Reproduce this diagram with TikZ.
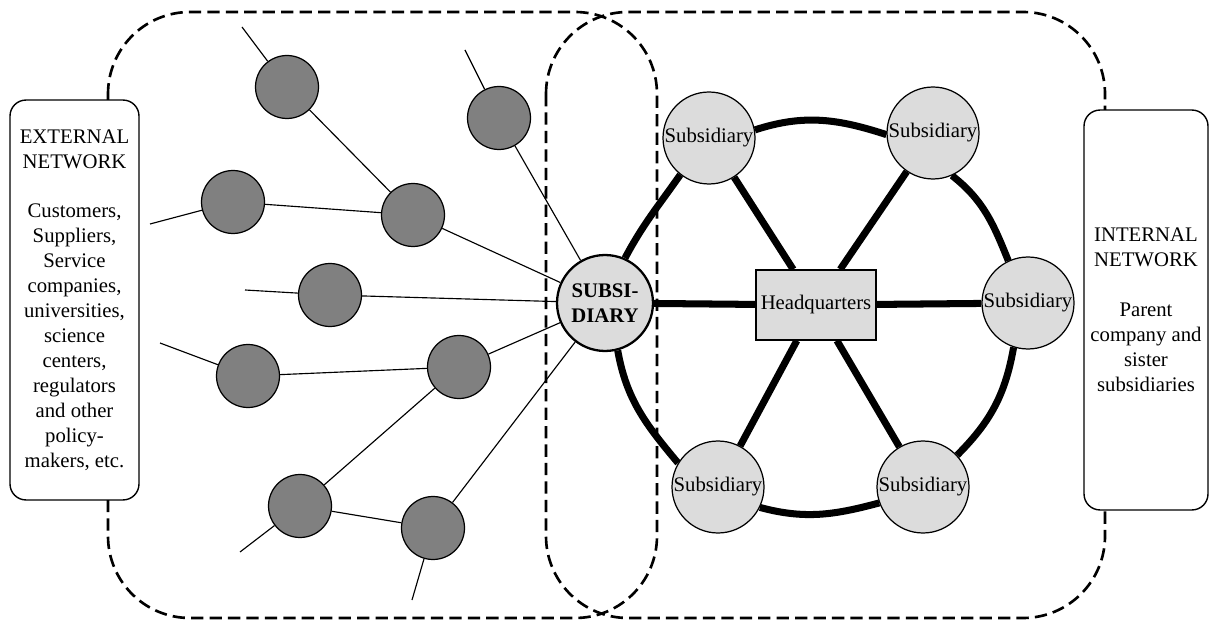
\documentclass[tikz,border=0pt]{standalone}
\usepackage{fontspec}
\setmainfont{Liberation Serif}
\usetikzlibrary{backgrounds}
\definecolor{actorGrey}{HTML}{808080}
\definecolor{subLight}{HTML}{DCDCDC}

\begin{document}
\begin{tikzpicture}[x=0.02cm,y=-0.02cm,
      every node/.style={font=\fontsize{11.8}{14.2}\selectfont},
      netbox/.style={draw,fill=white,line width=0.8pt,rounded corners=0.32cm,
                     minimum height=8cm,align=center,inner sep=0pt},
      actor/.style={circle,draw,fill=actorGrey,line width=0.7pt,minimum size=1.26cm,inner sep=0pt},
      subnode/.style={circle,draw,fill=subLight,line width=0.7pt,minimum size=1.84cm,inner sep=0pt},
      focal/.style={subnode,minimum size=1.92cm,line width=1.3pt,align=center,
                    font=\fontsize{11.8}{14.2}\selectfont\bfseries},
      hqbox/.style={draw,fill=subLight,line width=0.7pt,minimum width=2.4cm,minimum height=1.4cm,inner sep=1pt},
      region/.style={dash pattern=on 7pt off 3.5pt,line width=1.5pt,rounded corners=1.64cm},
      tie/.style={line width=0.65pt},
      ring/.style={line width=4pt}]
    \useasboundingbox (0,0) rectangle (1210,621);

    % network boxes
    \node[netbox,minimum width=2.58cm] (ext) at (74.5,300) {EXTERNAL\\NETWORK\\[14.2pt]
       Customers,\\Suppliers,\\Service\\companies,\\universities,\\science\\centers,\\
       regulators\\and other\\policy-\\makers, etc.};
    \node[netbox,minimum width=2.48cm] (int) at (1146,310) {INTERNAL\\NETWORK\\[14.2pt]
       Parent\\company and\\sister\\subsidiaries};

    % internal network
    \node[focal] (focal) at (605,303) {SUBSI-\\DIARY};
    \node[hqbox] (hq) at (816,305) {Headquarters};
    \node[subnode] (stl) at (709,138) {Subsidiary};
    \node[subnode] (str) at (933,133) {Subsidiary};
    \node[subnode] (sr)  at (1028,303) {Subsidiary};
    \node[subnode] (sbr) at (923,487) {Subsidiary};
    \node[subnode] (sbl) at (718,487) {Subsidiary};

    % external actors
    \node[actor] (a1) at (287,87) {};
    \node[actor] (a2) at (233,202) {};
    \node[actor] (a3) at (413,215) {};
    \node[actor] (a4) at (499,118) {};
    \node[actor] (a5) at (330,295) {};
    \node[actor] (a6) at (248,376) {};
    \node[actor] (a7) at (459,367) {};
    \node[actor] (a8) at (300,506) {};
    \node[actor] (a9) at (433,528) {};
    \coordinate (e1) at (242,27);
    \coordinate (e2) at (150,224);
    \coordinate (e4) at (465,50);
    \coordinate (e5) at (245,290);
    \coordinate (e6) at (160,343);
    \coordinate (e8) at (240,552);
    \coordinate (e9) at (412,600);

    \begin{scope}[on background layer]
      % the two overlapping networks
      \draw[region] (108,12) rectangle (657,618);
      \draw[region] (546,12) rectangle (1105,618);
      % ring and spokes
      \draw[ring] (focal.66) to[out=62,in=235] (stl.232);
      \draw[ring] (stl.10) to[out=18,in=162] (str.182);
      \draw[ring] (str.294) to[out=-38,in=112] (sr.115);
      \draw[ring] (sr.252) to[out=-100,in=45] (sbr.43);
      \draw[ring] (sbr.200) to[out=195,in=-15] (sbl.334);
      \draw[ring] (sbl.149) to[out=130,in=-80] (focal.285);
      \foreach \s in {focal,stl,str,sr,sbr,sbl}
        \draw[ring] (hq) -- (\s);
      % external ties
      \draw[tie] (e1) -- (a1) -- (a3) -- (focal);
      \draw[tie] (e2) -- (a2) -- (a3);
      \draw[tie] (e4) -- (a4) -- (focal);
      \draw[tie] (e5) -- (a5) -- (focal);
      \draw[tie] (e6) -- (a6) -- (a7) -- (focal);
      \draw[tie] (e8) -- (a8) -- (a7);
      \draw[tie] (a8) -- (a9) -- (focal);
      \draw[tie] (e9) -- (a9);
    \end{scope}
  \end{tikzpicture}
\end{document}
